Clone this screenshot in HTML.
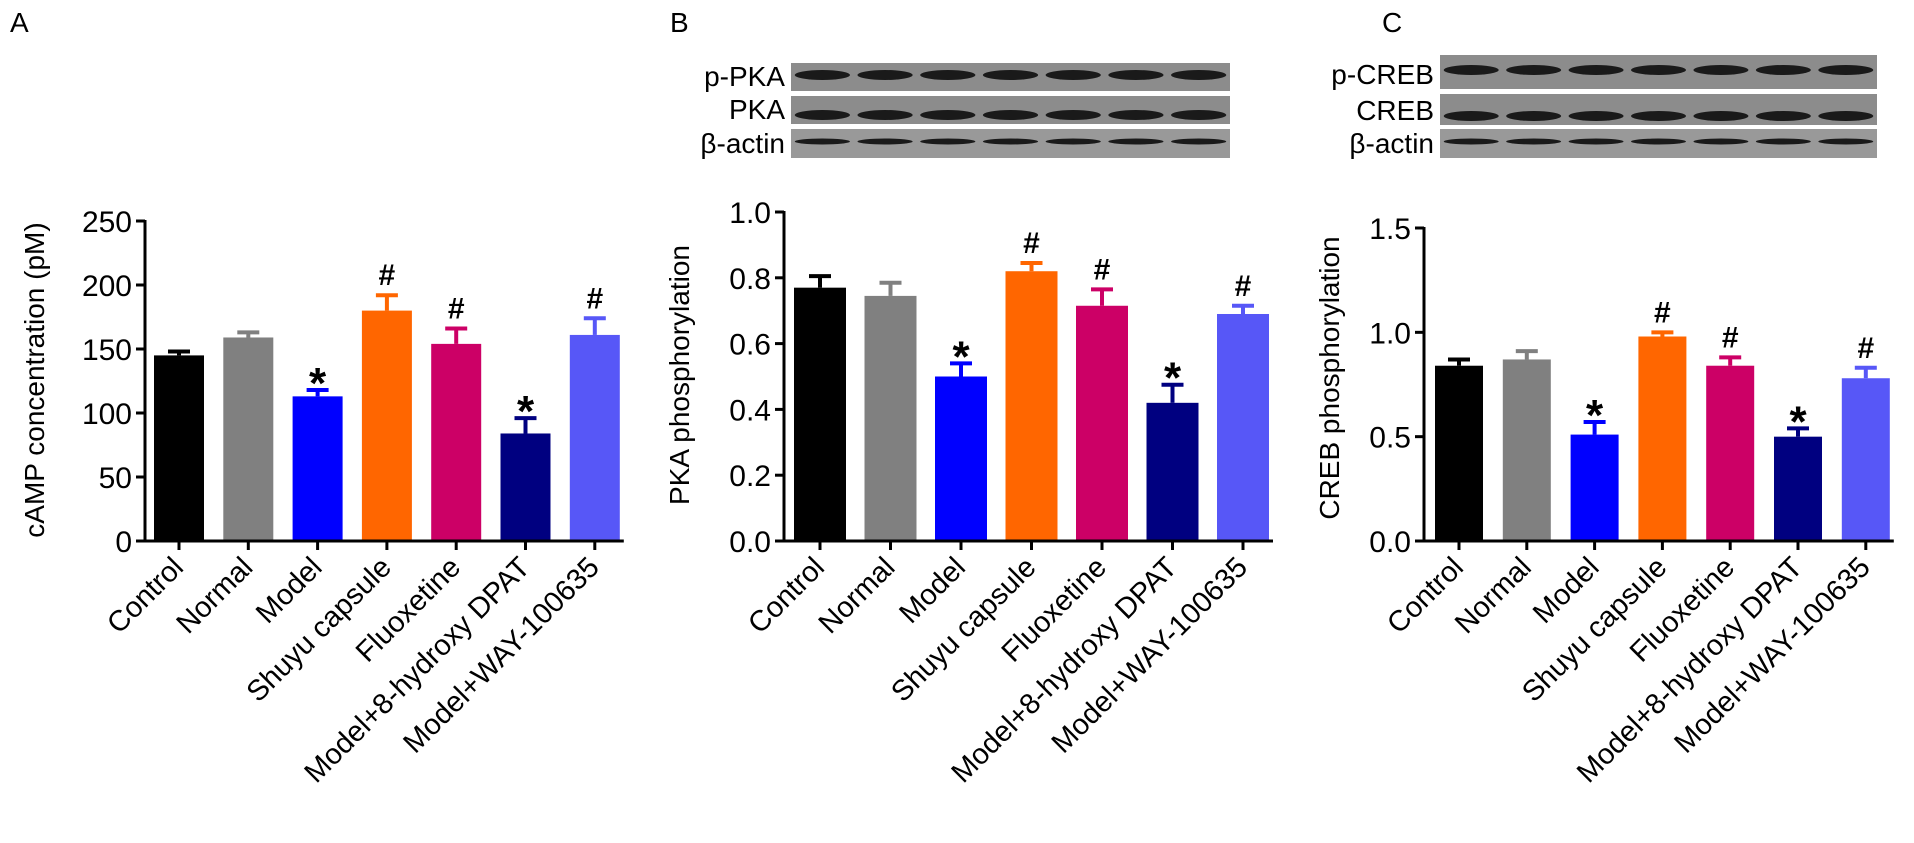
<!DOCTYPE html>
<html><head><meta charset="utf-8"><style>
html,body{margin:0;padding:0;background:#fff;}
svg{display:block;font-family:"Liberation Sans",Arial,sans-serif;}
</style></head><body>
<svg id="fig" width="1914" height="843" viewBox="0 0 1914 843"></svg>
<script>
const categories=["Control","Normal","Model","Shuyu capsule","Fluoxetine","Model+8-hydroxy DPAT","Model+WAY-100635"];
const colors=["#000000","#808080","#0000ff","#ff6600","#cc0066","#000080","#5757f7"];
const campValues=[145,159,113,180,154,84,161];
const campErrors=[3,4,5,12,12,12,13];
const campMarks=["","","*","#","#","*","#"];
const campTicks=[0,50,100,150,200,250];
const pkaValues=[0.77,0.745,0.50,0.82,0.715,0.42,0.69];
const pkaErrors=[0.035,0.04,0.04,0.025,0.05,0.055,0.025];
const pkaMarks=["","","*","#","#","*","#"];
const pkaTicks=[0,0.2,0.4,0.6,0.8,1.0];
const crebValues=[0.84,0.87,0.51,0.98,0.84,0.50,0.78];
const crebErrors=[0.03,0.04,0.06,0.02,0.04,0.04,0.05];
const crebMarks=["","","*","#","#","*","#"];
const crebTicks=[0,0.5,1.0,1.5];
const pkaBlotLabels=["p-PKA","PKA","β-actin"];
const crebBlotLabels=["p-CREB","CREB","β-actin"];

const svg=document.getElementById('fig');
const NS="http://www.w3.org/2000/svg";
function mk(tag,attrs,parent,text){const e=document.createElementNS(NS,tag);for(const k in attrs)e.setAttribute(k,attrs[k]);if(text!==undefined)e.textContent=text;(parent||svg).appendChild(e);return e;}

function panel(cfg){
  const g=mk('g',{});
  
  
  const base=541;
  const y=v=>base-(v/cfg.max)*cfg.h;
  const x=i=>cfg.x0+i*cfg.step;
  cfg.values.forEach((v,i)=>{
    const top=y(v), etop=y(v+cfg.errors[i]);
    const eb=mk('line',{x1:x(i),x2:x(i),y1:top,y2:etop,stroke:colors[i],'stroke-width':4},g);
    
    
    const cap=mk('line',{x1:x(i)-11,x2:x(i)+11,y1:etop,y2:etop,stroke:colors[i],'stroke-width':4},g);
    
    
    const r=mk('rect',{x:x(i)-cfg.bw/2,y:top,width:cfg.bw,height:base-top,fill:colors[i]},g);
    
    
    if(cfg.marks[i]){
      const star=cfg.marks[i]==='*';
      const t=mk('text',{x:x(i),y:etop-(star?-8:10),'text-anchor':'middle','font-size':star?44:30,'font-weight':'bold',fill:'#000'},g,cfg.marks[i]);
      
      
    }
    const tk=mk('line',{x1:x(i),x2:x(i),y1:base,y2:base+9,stroke:'#000','stroke-width':3},g);
    
    
    const lb=mk('text',{x:x(i)+6,y:base+28,'text-anchor':'end','font-size':29,fill:'#000',transform:`rotate(-45 ${x(i)+6} ${base+28})`},g,categories[i]);
    
    
  });
  const ya=mk('line',{x1:cfg.ax,x2:cfg.ax,y1:y(cfg.max)-1,y2:base+1.5,stroke:'#000','stroke-width':3},g);
  
  
  const xa=mk('line',{x1:cfg.ax-1.5,x2:x(6)+cfg.bw/2+4,y1:base,y2:base,stroke:'#000','stroke-width':3},g);
  
  
  cfg.ticks.forEach(t=>{
    const l=mk('line',{x1:cfg.ax-9,x2:cfg.ax,y1:y(t),y2:y(t),stroke:'#000','stroke-width':3},g);
    
    
    const tx=mk('text',{x:cfg.ax-13,y:y(t)+11,'text-anchor':'end','font-size':30,fill:'#000'},g,cfg.fmt(t));
    
    
  });
  const tt=mk('text',{x:cfg.tx,y:cfg.ty,'text-anchor':'middle','font-size':28,fill:'#000',transform:`rotate(-90 ${cfg.tx} ${cfg.ty})`},g,cfg.title);
  
  
  const pl=mk('text',{x:cfg.lx,y:32,'font-size':28,fill:'#000'},g,cfg.letter);
  
  
}

panel({name:'panel-a-camp-chart',values:campValues,errors:campErrors,marks:campMarks,ticks:campTicks,max:250,h:320,x0:179,step:69.3,bw:50,ax:145,fmt:t=>String(t),title:'cAMP concentration (pM)',tx:44,ty:380,letter:'A',lx:10});
panel({name:'panel-b-pka-chart',values:pkaValues,errors:pkaErrors,marks:pkaMarks,ticks:pkaTicks,max:1.0,h:329,x0:820,step:70.5,bw:52,ax:784,fmt:t=>t.toFixed(1),title:'PKA phosphorylation',tx:689,ty:375,letter:'B',lx:670});
panel({name:'panel-c-creb-chart',values:crebValues,errors:crebErrors,marks:crebMarks,ticks:crebTicks,max:1.5,h:313,x0:1459,step:67.8,bw:48,ax:1424,fmt:t=>t.toFixed(1),title:'CREB phosphorylation',tx:1339,ty:378,letter:'C',lx:1382});

function blot(name,labels,x0,x1,rows){
  const g=mk('g',{});
  
  
  rows.forEach((r,ri)=>{
    const rc=mk('rect',{x:x0,y:r[0],width:x1-x0,height:r[1]-r[0],fill:ri==2?'#999':'#8c8c8c'},g);
    
    
    const lw=(x1-x0)/7;
    for(let i=0;i<7;i++){
      const cy=ri==1?r[1]-9:(r[0]+r[1])/2-2;
      const b=mk('ellipse',{cx:x0+lw*(i+0.5),cy:cy,rx:lw*0.44,ry:ri==2?3:5,fill:'#1a1a1a'},g);
      
      
    }
    const t=mk('text',{x:x0-6,y:r[1]-5,'text-anchor':'end','font-size':28,fill:'#000'},g,labels[ri]);
    
    
  });
}
blot('pka-western-blot',pkaBlotLabels,791,1230,[[63,91],[96,124],[129,158]]);
blot('creb-western-blot',crebBlotLabels,1440,1877,[[55,89],[94,125],[129,158]]);
</script>
</body></html>
